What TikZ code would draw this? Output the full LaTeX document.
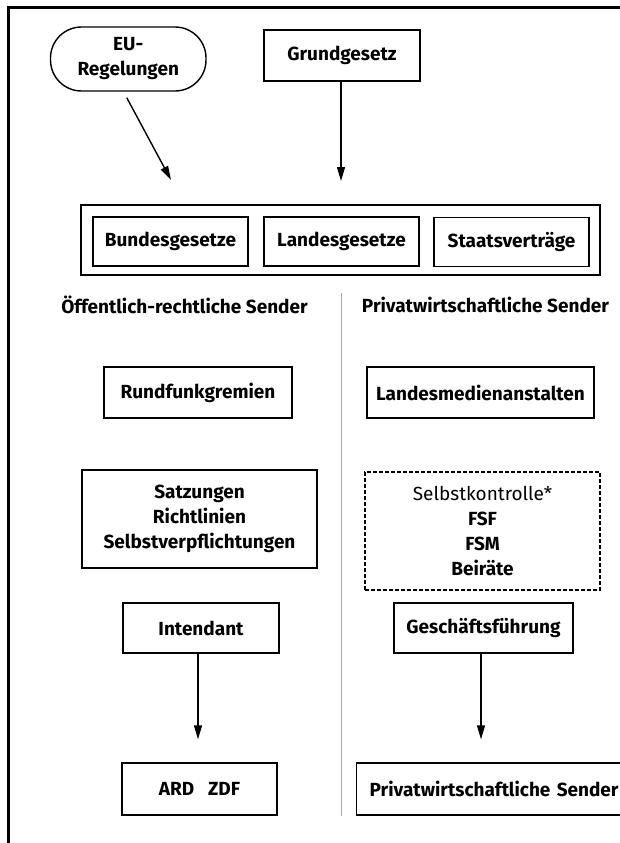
\documentclass[tikz,border=0pt]{standalone}
\usepackage{fontspec}
\setmainfont{Fira Sans}
\usetikzlibrary{arrows.meta}
\begin{document}
\begin{tikzpicture}[x=1pt,y=-1pt,
  every node/.style={font=\fontsize{19}{25}\selectfont\bfseries, align=center, inner sep=0pt},
  box/.style={draw, line width=1.4pt, rectangle},
  dbox/.style={draw, line width=1.2pt, rectangle, dash pattern=on 4pt off 2pt},
  arr/.style={line width=1.4pt, -{Triangle[length=14pt,width=8pt]}},
  heading/.style={font=\fontsize{19}{25}\selectfont\bfseries}]
\useasboundingbox (0,0) rectangle (620,843);
\clip (0,0) rectangle (620,843);
\fill[white] (0,0) rectangle (620,843);
% frame
\draw[line width=3pt] (8.5,845) -- (8.5,7.3) -- (622,7.3);
% top
\node[box, rounded corners=31pt, minimum width=155.5pt, minimum height=64pt] (eu) at (128.25,59) {EU-\\Regelungen};
\node[box, minimum width=156pt, minimum height=51pt] (gg) at (342,55.5) {Grundgesetz};
\node[box, minimum width=519pt, minimum height=70pt] (outer) at (340.5,240) {};
\node[box, minimum width=155pt, minimum height=49pt] (bund) at (170.5,241.5) {Bundesgesetze};
\node[box, minimum width=155pt, minimum height=49pt] (land) at (341.5,241.5) {Landesgesetze};
\node[box, minimum width=155pt, minimum height=49pt] (staat) at (511.5,242) {Staatsverträge};
\coordinate (euend) at (171,180);
\coordinate (ggend) at (341,181);
\draw[arr] ([shift={(-1.5,6)}]eu.south) -- (euend);
\draw[arr] (gg.south -| ggend) -- (ggend);
% headings and divider
\node[heading] (hl) at (184.5,305) {Öffentlich-rechtliche Sender};
\node[heading] (hr) at (485.5,305) {Privatwirtschaftliche Sender};
\coordinate (dtop) at (341,293);
\coordinate (dbot) at (341,816);
\draw[gray!70, line width=1pt] (dtop) -- (dbot);
% left column
\node[box, minimum width=188pt, minimum height=51pt] (rund) at (198,392.5) {Rundfunkgremien};
\node[box, minimum width=235pt, minimum height=98pt] (satz) at (199.5,519) {Satzungen\\Richtlinien\\Selbstverpflichtungen};
\node[box, minimum width=156pt, minimum height=50pt] (int) at (201,628) {Intendant};
\node[box, minimum width=155pt, minimum height=52pt] (ard) at (199.5,789) {ARD\hspace{14pt}ZDF};
% right column
\node[box, minimum width=227pt, minimum height=51pt] (lma) at (480.5,392.5) {Landesmedienanstalten};
\node[dbox, minimum width=235pt, minimum height=118pt] (selbst) at (482.5,531) {{\mdseries Selbstkontrolle*}\\FSF\\FSM\\Beiräte};
\node[box, minimum width=179pt, minimum height=50pt] (gf) at (483.5,628) {Geschäftsführung};
\node[box, anchor=west, inner xsep=13pt, text width=270pt, align=left, minimum height=52pt] (priv) at (356,789) {Privatwirtschaftliche Sender};
% arrows
\draw[arr, shorten >=23pt] ([xshift=-3pt]int.south) -- ([xshift=-3pt]int.south |- ard.north);
\draw[arr, shorten >=23pt] ([xshift=-2.5pt]gf.south) -- ([xshift=-2.5pt]gf.south |- priv.north);
\end{tikzpicture}
\end{document}
